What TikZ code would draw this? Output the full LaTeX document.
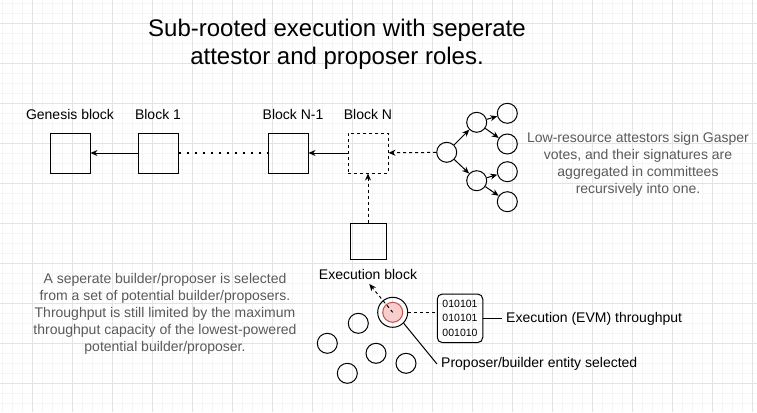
\documentclass[tikz,border=0pt]{standalone}
\usepackage{fontspec}
\setmainfont{Liberation Sans}
\usetikzlibrary{arrows.meta}
\definecolor{gridmajor}{HTML}{E3E3E3}
\definecolor{gridminor}{HTML}{F5F5F5}
\definecolor{desc}{HTML}{5A5A5A}
\definecolor{selfill}{HTML}{F8CECC}
\definecolor{seldraw}{HTML}{B85450}
\tikzset{
  blk/.style={draw, line width=1pt, minimum size=40pt, inner sep=0pt},
  lbl/.style={font=\fontsize{14}{17}\selectfont, inner sep=0pt},
  desctext/.style={font=\fontsize{14}{17}\selectfont, text=desc, align=center, inner sep=0pt},
  circ/.style={draw, circle, line width=1pt, minimum size=20pt, inner sep=0pt},
  arr/.style={line width=1pt, -{Stealth[length=7pt,width=6pt]}},
  dsh/.style={dash pattern=on 3pt off 3pt},
  dotline/.style={line width=1.5pt, dash pattern=on 2pt off 6pt},
}
\begin{document}
\begin{tikzpicture}[x=1pt,y=-1pt]
\useasboundingbox (0,0) rectangle (757,412);
\fill[white] (0,0) rectangle (757,412);
% grid
\foreach \x in {2.5,12.5,...,757} \draw[gridminor, line width=0.8pt] (\x,0) -- (\x,412);
\foreach \y in {3.3,13.3,...,412} \draw[gridminor, line width=0.8pt] (0,\y) -- (757,\y);
\foreach \x in {32.5,72.5,...,757} \draw[gridmajor, line width=0.8pt] (\x,0) -- (\x,412);
\foreach \y in {23.3,63.3,...,412} \draw[gridmajor, line width=0.8pt] (0,\y) -- (757,\y);

% title
\node[font=\fontsize{24}{28.3}\selectfont, align=center, inner sep=0pt] (title) at (337,44) {Sub-rooted execution with seperate\\attestor and proposer roles.};

% blocks
\node[blk] (gen) at (70,153) {};
\node[blk] (b1) at (158,153) {};
\node[blk] (bn1) at (288,153) {};
\node[blk, dsh] (bn) at (368,153) {};
\node[lbl] (genl) at (70,114) {Genesis block};
\node[lbl] (b1l) at (158,114) {Block 1};
\node[lbl] (bn1l) at (293,114) {Block N-1};
\node[lbl] (bnl) at (368,114) {Block N};

\draw[arr] (b1) -- (gen);
\draw[dotline] (b1.east) -- (bn1.west);
\draw[arr] (bn) -- (bn1);

% execution block
\node[blk, minimum size=36pt] (exe) at (368,241) {};
\node[lbl] (exel) at (368,274) {Execution block};
\draw[arr, dsh] (exe) -- (bn);

% attestor tree
\node[circ] (root) at (446.7,152.3) {};
\node[circ] (um) at (476.7,122.3) {};
\node[circ] (lm) at (476.7,180.7) {};
\node[circ] (l1) at (507.3,113.3) {};
\node[circ] (l2) at (507.3,144) {};
\node[circ] (l3) at (507.3,171.7) {};
\node[circ] (l4) at (507.3,201.7) {};
\draw[arr, dsh] (root) -- (bn);
\draw[arr] (root) -- (um);
\draw[arr] (root) -- (lm);
\draw[arr] (um) -- (l1);
\draw[arr] (um) -- (l2);
\draw[arr] (lm) -- (l3);
\draw[arr] (lm) -- (l4);

\node[desctext] (attext) at (638,164) {Low-resource attestors sign Gasper\\votes, and their signatures are\\aggregated in committees\\recursively into one.};

\node[desctext] (buildtext) at (165,314) {A seperate builder/proposer is selected\\from a set of potential builder/proposers.\\Throughput is still limited by the maximum\\throughput capacity of the lowest-powered\\potential builder/proposer.};

% builder pool
\node[circ, minimum size=30pt] (sel) at (392.7,312.3) {};
\node[circle, draw=seldraw, fill=selfill, line width=1pt, minimum size=20pt, inner sep=0pt] (selin) at (392.7,312.3) {};
\node[circ] (c1) at (358.3,323.3) {};
\node[circ] (c2) at (327.3,343.3) {};
\node[circ] (c3) at (376,353.3) {};
\node[circ] (c4) at (347.3,373.3) {};
\node[circ] (c5) at (406,363.3) {};
\coordinate (up) at (369.3,284);
\draw[arr, dsh] (selin.center) -- (up);

\node[draw, rounded corners=5pt, line width=1pt, minimum width=45.5pt, minimum height=48.5pt, inner sep=0pt, align=center, font=\fontsize{10.5}{14.3}\selectfont] (code) at (460,318.3) {010101\\010101\\001010};
\draw[line width=1pt, dsh] (sel.east) -- (sel.east -| code.west);

\node[lbl, anchor=west, inner xsep=4pt] (evm) at (502,319) {Execution (EVM) throughput};
\draw[line width=1pt] (code.east) -- (code.east -| evm.west);
\node[lbl, anchor=west, inner xsep=4pt] (pbl) at (437,364) {Proposer/builder entity selected};
\draw[line width=1pt] (sel.-45) -- (pbl.west);
\end{tikzpicture}
\end{document}
